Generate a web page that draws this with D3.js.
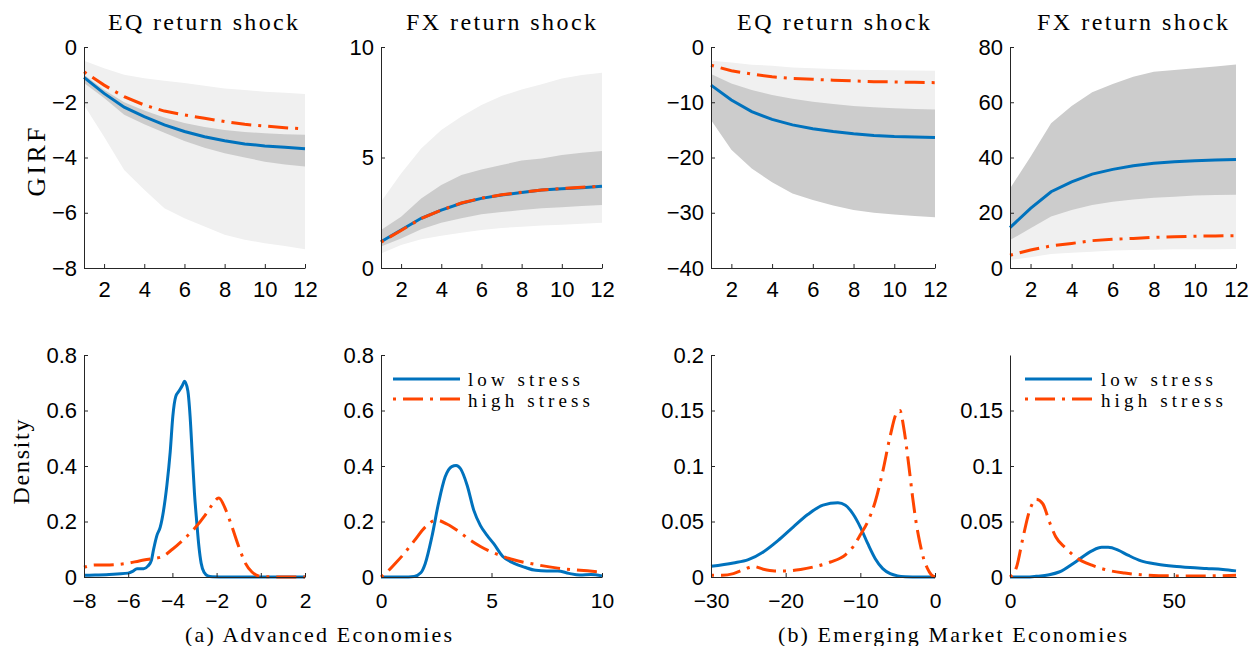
<!DOCTYPE html>
<html><head><meta charset="utf-8">
<script src="https://cdn.jsdelivr.net/npm/d3@7"></script>
<style>body{margin:0;background:#fff}</style>
</head><body>
<svg id="c" width="1250" height="646"></svg>
<script>
// ---------------- DATA ----------------
const horizon = [1,2,3,4,5,6,7,8,9,10,11,12];
const panelTitles = ["EQ return shock","FX return shock","EQ return shock","FX return shock"];
const captions = ["(a) Advanced Economies","(b) Emerging Market Economies"];
const seriesNames = ["low stress","high stress"];

// Advanced economies, EQ shock GIRF
const aeEqLow      = [-1.10,-1.68,-2.18,-2.52,-2.82,-3.06,-3.25,-3.39,-3.51,-3.58,-3.63,-3.68];
const aeEqHigh     = [-0.90,-1.38,-1.80,-2.10,-2.32,-2.46,-2.58,-2.70,-2.80,-2.86,-2.92,-2.97];
const aeEqLowUp    = [-1.00,-1.55,-2.00,-2.30,-2.55,-2.75,-2.90,-3.00,-3.08,-3.12,-3.16,-3.18];
const aeEqLowDn    = [-1.30,-1.85,-2.45,-2.80,-3.10,-3.40,-3.65,-3.85,-4.00,-4.15,-4.25,-4.33];
const aeEqHighUp   = [-0.50,-0.77,-1.00,-1.13,-1.22,-1.30,-1.40,-1.50,-1.56,-1.62,-1.66,-1.70];
const aeEqHighDn   = [-2.10,-3.25,-4.45,-5.17,-5.84,-6.20,-6.50,-6.80,-6.98,-7.10,-7.20,-7.32];
// Advanced economies, FX shock GIRF
const aeFxLow      = [1.19,1.72,2.25,2.62,2.93,3.15,3.30,3.42,3.53,3.59,3.63,3.70];
const aeFxHigh     = [1.17,1.70,2.24,2.62,2.94,3.16,3.31,3.43,3.53,3.60,3.65,3.71];
const aeFxLowUp    = [1.72,2.32,3.15,3.76,4.21,4.46,4.66,4.86,4.96,5.11,5.22,5.29];
const aeFxLowDn    = [0.97,1.34,1.75,2.05,2.25,2.43,2.53,2.62,2.70,2.75,2.80,2.85];
const aeFxHighUp   = [3.00,4.28,5.41,6.24,6.85,7.38,7.78,8.08,8.31,8.58,8.73,8.84];
const aeFxHighDn   = [0.66,1.04,1.30,1.46,1.60,1.72,1.81,1.87,1.92,1.96,2.00,2.05];
// Emerging markets, EQ shock GIRF
const emEqLow      = [-6.9,-9.6,-11.7,-13.1,-14.1,-14.8,-15.3,-15.7,-16.0,-16.2,-16.3,-16.4];
const emEqHigh     = [-3.3,-4.3,-4.9,-5.4,-5.7,-5.85,-6.0,-6.15,-6.27,-6.33,-6.4,-6.45];
const emEqLowUp    = [-4.9,-6.6,-7.8,-8.7,-9.35,-9.9,-10.3,-10.7,-10.9,-11.1,-11.2,-11.3];
const emEqLowDn    = [-13.2,-18.6,-22.0,-24.5,-26.5,-27.7,-28.7,-29.5,-30.0,-30.3,-30.6,-30.8];
const emEqHighUp   = [-2.5,-2.8,-3.2,-3.4,-3.7,-3.86,-4.0,-4.1,-4.16,-4.2,-4.25,-4.28];
const emEqHighDn   = [-5.6,-7.6,-9.0,-9.9,-10.6,-11.1,-11.5,-11.8,-12.0,-12.2,-12.3,-12.4];
// Emerging markets, FX shock GIRF
const emFxLow      = [14.6,21.6,27.6,31.2,34.0,35.7,37.0,37.9,38.5,38.8,39.1,39.3];
const emFxHigh     = [4.6,6.5,8.0,8.9,9.9,10.4,10.7,11.1,11.3,11.5,11.6,11.7];
const emFxLowUp    = [28.8,40.3,52.4,58.6,63.6,66.6,69.2,71.0,71.7,72.3,72.9,73.7];
const emFxLowDn    = [10.1,14.4,18.6,21.0,22.8,24.0,24.8,25.4,25.8,26.2,26.4,26.5];
const emFxHighUp   = [12.5,17.0,21.0,23.5,25.3,26.5,27.3,27.9,28.3,28.7,28.9,29.1];
const emFxHighDn   = [2.9,3.9,5.1,5.5,5.9,6.3,6.5,6.6,6.75,6.75,6.8,6.9];

// Densities (x grid, density) per series
const aeEqDensLowX  = [-8,-7.5,-7,-6.5,-6,-5.8,-5.6,-5.3,-5.1,-4.95,-4.85,-4.7,-4.55,-4.4,-4.25,-4.1,-3.98,-3.85,-3.7,-3.55,-3.45,-3.3,-3.2,-3.1,-3.0,-2.9,-2.8,-2.7,-2.55,-2.4,-2.2,-1.5,-0.5,0.5,1.5,2];
const aeEqDensLowY  = [0.006,0.007,0.008,0.011,0.014,0.02,0.03,0.03,0.04,0.06,0.10,0.15,0.18,0.24,0.33,0.45,0.58,0.65,0.67,0.69,0.705,0.67,0.58,0.44,0.30,0.20,0.11,0.05,0.015,0.004,0.001,0,0,0,0,0];
const aeEqDensHighX = [-8,-7.5,-7,-6.5,-6,-5.5,-5,-4.5,-4,-3.5,-3,-2.5,-2.2,-1.9,-1.6,-1.3,-1.0,-0.7,-0.4,-0.1,0.3,1,2];
const aeEqDensHighY = [0.035,0.043,0.043,0.045,0.05,0.058,0.065,0.072,0.10,0.135,0.175,0.225,0.26,0.285,0.245,0.18,0.11,0.05,0.018,0.004,0.001,0,0];

const aeFxDensLowX  = [0,1,1.5,1.8,2.0,2.3,2.6,2.9,3.2,3.4,3.6,3.9,4.2,4.5,4.8,5.1,5.5,6,6.5,7,7.5,8,8.5,9,9.5,10];
const aeFxDensLowY  = [0,0,0.002,0.015,0.048,0.144,0.265,0.36,0.398,0.402,0.39,0.33,0.24,0.185,0.15,0.12,0.075,0.05,0.035,0.024,0.022,0.022,0.013,0.007,0.009,0.004];
const aeFxDensHighX = [0,0.3,0.6,1,1.5,2,2.5,3,3.5,4,4.5,5,5.5,6,7,8,9,10];
const aeFxDensHighY = [0,0.02,0.045,0.08,0.13,0.18,0.205,0.19,0.165,0.135,0.11,0.09,0.075,0.062,0.045,0.032,0.024,0.018];

const emEqDensLowX  = [-30,-27,-25,-23,-21,-19,-17,-15,-13,-12,-11,-10,-9,-8,-7,-6,-5,-4,-2,0];
const emEqDensLowY  = [0.0096,0.0126,0.0156,0.0226,0.033,0.045,0.0565,0.0647,0.0668,0.0647,0.057,0.045,0.030,0.0165,0.0075,0.003,0.001,0.0003,0,0];
const emEqDensHighX = [-30,-28.5,-27,-25.5,-24.3,-23,-21.5,-20,-18,-16,-14,-12,-11,-10,-9,-8,-7,-6,-5.2,-4.7,-4.2,-3.5,-3,-2.5,-2,-1.5,-1,-0.5,0];
const emEqDensHighY = [0.0015,0.0015,0.003,0.007,0.0095,0.007,0.0055,0.0055,0.0068,0.0095,0.0135,0.02,0.027,0.038,0.05,0.068,0.095,0.127,0.147,0.15,0.135,0.10,0.072,0.048,0.03,0.016,0.0075,0.002,0];

const emFxDensLowX  = [0,5,8,12,15,20,25,28,30,33,36,40,45,50,55,60,65,69];
const emFxDensLowY  = [0,0,0.0006,0.002,0.0045,0.0136,0.0236,0.0267,0.0267,0.0242,0.0197,0.0145,0.0115,0.0097,0.0085,0.0076,0.0067,0.0055];
const emFxDensHighX = [0,2,4,6,8,10,12,14,17,20,25,30,35,40,50,60,69];
const emFxDensHighY = [0,0.009,0.036,0.06,0.070,0.066,0.05,0.036,0.026,0.018,0.0106,0.006,0.0036,0.002,0.001,0.001,0.0015];

// Axis ticks
const girfXTicks = [2,4,6,8,10,12];
const aeEqYTicks = [0,-2,-4,-6,-8];
const aeFxYTicks = [0,5,10];
const emEqYTicks = [0,-10,-20,-30,-40];
const emFxYTicks = [0,20,40,60,80];
const aeEqDensXTicks = [-8,-6,-4,-2,0,2];
const aeFxDensXTicks = [0,5,10];
const emEqDensXTicks = [-30,-20,-10,0];
const emFxDensXTicks = [0,50];
const aeDensYTicks = [0,0.2,0.4,0.6,0.8];
const emEqDensYTicks = [0,0.05,0.1,0.15,0.2];
const emFxDensYTicks = [0,0.05,0.1,0.15];

// ---------------- LAYOUT / STYLE ----------------
const BLUE = "#0072bd", RED = "#ff4500", LIGHT = "#f0f0f0", DARK = "#cccccc", AXIS = "#262626";
const SANS = "'Liberation Sans', Arial, sans-serif";
const SERIF = "'Liberation Serif', 'DejaVu Serif', serif";
const DASH = "3,7,20,7";
const cols = [[84,305],[381,602],[711,935],[1010,1236]];
const topRow = [47,268], botRow = [355,577];

const svg = d3.select("#c");
const fmt = d => d3.format("~g")(d).replace("-", "\u2212");

function axes(x, y, row, xt, yt, xpad, xfs) {
  const gx = svg.append("g").attr("transform", `translate(0,${row[1]})`)
    .call(d3.axisBottom(x).tickValues(xt).tickSizeInner(-4).tickSizeOuter(0).tickPadding(xpad).tickFormat(fmt));
  const gy = svg.append("g").attr("transform", `translate(${x.range()[0]},0)`)
    .call(d3.axisLeft(y).tickValues(yt).tickSizeInner(-4).tickSizeOuter(0).tickPadding(7).tickFormat(fmt));
  gx.attr("font-family", SANS).attr("font-size", xfs);
  gy.attr("font-family", SANS).attr("font-size", 22);
  [gx, gy].forEach(g => {
    g.selectAll("path,line").attr("stroke", AXIS).attr("stroke-width", 1);
    g.selectAll("text").attr("fill", "#000");
  });
}

function girf(ci, ydom, yt, low, high, lowUp, lowDn, highUp, highDn) {
  const x = d3.scaleLinear().domain([1,12]).range(cols[ci]);
  const y = d3.scaleLinear().domain(ydom).range([topRow[1], topRow[0]]);
  const area = (up, dn) => d3.area().x((d,i) => x(horizon[i])).y0((d,i) => y(dn[i])).y1((d,i) => y(up[i]))(horizon);
  svg.append("path").attr("d", area(highUp, highDn)).attr("fill", LIGHT);
  svg.append("path").attr("d", area(lowUp, lowDn)).attr("fill", DARK);
  const line = vals => d3.line().x((d,i) => x(horizon[i])).y((d,i) => y(vals[i]))(horizon);
  svg.append("path").attr("d", line(low)).attr("fill", "none").attr("stroke", BLUE).attr("stroke-width", 3);
  svg.append("path").attr("d", line(high)).attr("fill", "none").attr("stroke", RED).attr("stroke-width", 3).attr("stroke-dasharray", DASH);
  axes(x, y, topRow, girfXTicks, yt, 13, 22);
}

function dens(ci, xdom, ydom, xt, yt, lx, ly, hx, hy) {
  const x = d3.scaleLinear().domain(xdom).range(cols[ci]);
  const y = d3.scaleLinear().domain(ydom).range([botRow[1], botRow[0]]);
  const line = (xs, ys) => d3.line().curve(d3.curveMonotoneX).x((d,i) => x(xs[i])).y((d,i) => y(ys[i]))(xs);
  svg.append("path").attr("d", line(lx, ly)).attr("fill", "none").attr("stroke", BLUE).attr("stroke-width", 3);
  svg.append("path").attr("d", line(hx, hy)).attr("fill", "none").attr("stroke", RED).attr("stroke-width", 3).attr("stroke-dasharray", DASH);
  axes(x, y, botRow, xt, yt, 16, 21);
}

girf(0, [-8,0], aeEqYTicks, aeEqLow, aeEqHigh, aeEqLowUp, aeEqLowDn, aeEqHighUp, aeEqHighDn);
girf(1, [0,10], aeFxYTicks, aeFxLow, aeFxHigh, aeFxLowUp, aeFxLowDn, aeFxHighUp, aeFxHighDn);
girf(2, [-40,0], emEqYTicks, emEqLow, emEqHigh, emEqLowUp, emEqLowDn, emEqHighUp, emEqHighDn);
girf(3, [0,80], emFxYTicks, emFxLow, emFxHigh, emFxLowUp, emFxLowDn, emFxHighUp, emFxHighDn);

dens(0, [-8,2], [0,0.8], aeEqDensXTicks, aeDensYTicks, aeEqDensLowX, aeEqDensLowY, aeEqDensHighX, aeEqDensHighY);
dens(1, [0,10], [0,0.8], aeFxDensXTicks, aeDensYTicks, aeFxDensLowX, aeFxDensLowY, aeFxDensHighX, aeFxDensHighY);
dens(2, [-30,0], [0,0.2], emEqDensXTicks, emEqDensYTicks, emEqDensLowX, emEqDensLowY, emEqDensHighX, emEqDensHighY);
dens(3, [0,69], [0,0.2], emFxDensXTicks, emFxDensYTicks, emFxDensLowX, emFxDensLowY, emFxDensHighX, emFxDensHighY);

// Titles
const titlePos = [[108,190],[406,190],[737,193],[1037,191]];
panelTitles.forEach((t, i) => {
  svg.append("text").attr("x", titlePos[i][0]).attr("y", 30).attr("font-family", SERIF).attr("font-size", 24)
    .attr("textLength", titlePos[i][1]).attr("lengthAdjust", "spacing").attr("fill", "#000").text(t);
});
// y labels
svg.append("text").attr("transform", "translate(45,162) rotate(-90)").attr("text-anchor", "middle")
  .attr("font-family", SERIF).attr("font-size", 26).attr("textLength", 69).attr("lengthAdjust", "spacing").text("GIRF");
svg.append("text").attr("transform", "translate(29,462) rotate(-90)").attr("text-anchor", "middle")
  .attr("font-family", SERIF).attr("font-size", 24).attr("textLength", 85).attr("lengthAdjust", "spacing").text("Density");
// Legends
[[393,468],[1025,1101]].forEach(([lx, tx]) => {
  svg.append("line").attr("x1", lx).attr("x2", lx + 67).attr("y1", 379).attr("y2", 379).attr("stroke", BLUE).attr("stroke-width", 3);
  svg.append("line").attr("x1", lx).attr("x2", lx + 67).attr("y1", 399).attr("y2", 399).attr("stroke", RED).attr("stroke-width", 3).attr("stroke-dasharray", DASH);
  svg.append("text").attr("x", tx).attr("y", 386).attr("font-family", SERIF).attr("font-size", 19)
    .attr("textLength", 112).attr("lengthAdjust", "spacing").text(seriesNames[0]);
  svg.append("text").attr("x", tx).attr("y", 407).attr("font-family", SERIF).attr("font-size", 19)
    .attr("textLength", 122).attr("lengthAdjust", "spacing").text(seriesNames[1]);
});
// Captions
svg.append("text").attr("x", 185).attr("y", 642).attr("font-family", SERIF).attr("font-size", 22)
  .attr("textLength", 267).attr("lengthAdjust", "spacing").text(captions[0]);
svg.append("text").attr("x", 778).attr("y", 642).attr("font-family", SERIF).attr("font-size", 22)
  .attr("textLength", 349).attr("lengthAdjust", "spacing").text(captions[1]);
</script>
</body></html>
